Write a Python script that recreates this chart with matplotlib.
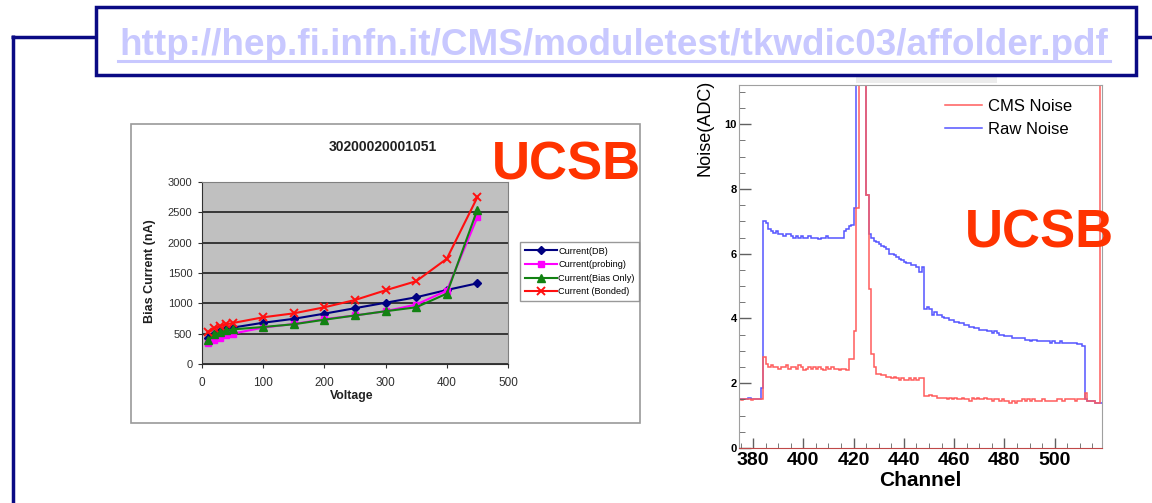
import numpy as np
import matplotlib
matplotlib.use("Agg")
import matplotlib.pyplot as plt
from matplotlib.patches import Rectangle
from matplotlib.lines import Line2D
from matplotlib.ticker import MultipleLocator

plt.rcParams["font.family"] = ["Liberation Sans", "DejaVu Sans"]

W, H = 1152, 503

# left chart: bias current (nA) vs voltage
voltage = [10, 20, 30, 40, 50, 100, 150, 200, 250, 300, 350, 400, 450]
current_db = [430, 500, 540, 570, 600, 680, 745, 830, 920, 1010, 1100, 1220, 1330]
current_probing = [345, 390, 430, 470, 500, 600, 660, 740, 800, 870, 980, 1210, 2420]
current_bias_only = [390, 490, 530, 555, 570, 610, 655, 730, 800, 870, 935, 1160, 2545]
current_bonded = [525, 590, 630, 655, 675, 770, 835, 935, 1055, 1215, 1365, 1735, 2750]
left_labels = ["Current(DB)", "Current(probing)", "Current(Bias Only)", "Current (Bonded)"]

# right chart: noise per channel, channels 374..518
first_channel = 374
raw_noise = [
    1.50, 1.50, 1.52, 1.50, 1.55, 1.50, 1.52, 1.50, 1.50, 1.85,
    7.00, 6.95, 6.75, 6.70, 6.65, 6.70, 6.60, 6.60, 6.55, 6.60,
    6.60, 6.55, 6.50, 6.55, 6.50, 6.55, 6.50, 6.50, 6.55, 6.50,
    6.50, 6.50, 6.45, 6.50, 6.50, 6.55, 6.50, 6.50, 6.50, 6.50,
    6.50, 6.50, 6.70, 6.75, 6.85, 6.90, 7.40, 15.0, 15.0, 15.0,
    15.0, 7.80, 6.60, 6.50, 6.40, 6.35, 6.30, 6.25, 6.20, 6.15,
    6.00, 6.00, 5.95, 5.90, 5.85, 5.80, 5.75, 5.70, 5.70, 5.65,
    5.65, 5.60, 5.45, 5.60, 4.30, 4.35, 4.30, 4.10, 4.20, 4.10,
    4.10, 4.05, 4.00, 4.00, 3.95, 3.95, 3.90, 3.90, 3.85, 3.85,
    3.80, 3.80, 3.75, 3.75, 3.70, 3.70, 3.65, 3.65, 3.65, 3.60,
    3.60, 3.55, 3.60, 3.55, 3.50, 3.50, 3.45, 3.45, 3.45, 3.40,
    3.40, 3.40, 3.40, 3.40, 3.35, 3.35, 3.30, 3.35, 3.35, 3.30,
    3.30, 3.30, 3.30, 3.30, 3.25, 3.30, 3.25, 3.25, 3.30, 3.25,
    3.25, 3.25, 3.25, 3.25, 3.25, 3.20, 3.20, 3.15, 1.50, 1.45,
    1.45, 1.45, 1.40, 1.40, 1.40,
]
cms_noise = [
    1.50, 1.48, 1.50, 1.50, 1.50, 1.48, 1.50, 1.50, 1.50, 1.50,
    2.80, 2.60, 2.50, 2.55, 2.50, 2.50, 2.45, 2.50, 2.50, 2.55,
    2.45, 2.50, 2.50, 2.45, 2.55, 2.50, 2.40, 2.45, 2.50, 2.45,
    2.50, 2.45, 2.50, 2.45, 2.40, 2.50, 2.45, 2.50, 2.45, 2.45,
    2.40, 2.45, 2.45, 2.40, 2.75, 2.75, 3.60, 7.40, 15.0, 15.0,
    15.0, 7.80, 4.90, 2.90, 2.50, 2.30, 2.30, 2.25, 2.25, 2.20,
    2.20, 2.15, 2.20, 2.15, 2.10, 2.15, 2.10, 2.10, 2.15, 2.10,
    2.15, 2.10, 2.15, 2.15, 1.60, 1.60, 1.65, 1.60, 1.60, 1.55,
    1.55, 1.55, 1.55, 1.50, 1.55, 1.50, 1.55, 1.50, 1.50, 1.55,
    1.50, 1.50, 1.45, 1.55, 1.50, 1.55, 1.50, 1.50, 1.55, 1.50,
    1.50, 1.45, 1.50, 1.50, 1.45, 1.50, 1.45, 1.45, 1.40, 1.45,
    1.40, 1.45, 1.45, 1.50, 1.45, 1.50, 1.45, 1.50, 1.45, 1.45,
    1.45, 1.50, 1.45, 1.45, 1.45, 1.45, 1.45, 1.50, 1.50, 1.45,
    1.50, 1.50, 1.50, 1.50, 1.45, 1.50, 1.50, 1.50, 1.70, 1.45,
    1.45, 1.45, 1.40, 1.40, 15.0,
]
right_labels = ["CMS Noise", "Raw Noise"]

url = "http://hep.fi.infn.it/CMS/moduletest/tkwdic03/affolder.pdf"
navy = "#0a0a84"
ucsb_color = "#ff3300"


def box(left, top, right, bottom):
    # pixel box -> figure fraction rect
    return [left / W, 1 - bottom / H, (right - left) / W, (bottom - top) / H]


def px(x, y):
    return (x / W, 1 - y / H)


fig = plt.figure(figsize=(W / 100, H / 100), dpi=100)

# slide background in pixel coordinates
bg = fig.add_axes([0, 0, 1, 1], zorder=-1)
bg.set_xlim(0, W)
bg.set_ylim(H, 0)
bg.axis("off")
bg.plot([11, W], [36.5, 36.5], color=navy, lw=2.5, solid_capstyle="butt", zorder=1)
bg.plot([12.5, 12.5], [35, H], color=navy, lw=2.5, solid_capstyle="butt", zorder=1)
bg.add_patch(Rectangle((96, 6.5), 1040, 68, facecolor="white", edgecolor=navy,
                       lw=2.5, zorder=3))
bg.text(614, 55, url, ha="center", va="baseline", fontsize=26.6,
        fontweight="bold", color="#c8c8ff", zorder=4)
bg.plot([118, 1110], [61, 61], color="#c8c8ff", lw=2.2, zorder=4)
bg.add_patch(Rectangle((131, 124), 509, 299, facecolor="white", edgecolor="#9a9a9a", lw=1.2))
bg.add_patch(Rectangle((856, 77), 141, 6, facecolor="#ececec", edgecolor="none"))

# ---- left chart (Excel style) ----
ax1 = fig.add_axes(box(202, 182, 508, 364))
ax1.set_facecolor("#c0c0c0")
ax1.plot(voltage, current_db, color="#000080", marker="D", ms=4.5, lw=1.5, label=left_labels[0])
ax1.plot(voltage, current_probing, color="#ff00ff", marker="s", ms=4.5, lw=1.5, label=left_labels[1])
ax1.plot(voltage, current_bias_only, color="#128212", marker="^", ms=5.5, lw=1.5, label=left_labels[2])
ax1.plot(voltage, current_bonded, color="#ff1010", marker="x", ms=5.5, mew=1.4, lw=1.5, label=left_labels[3])
ax1.set_xlim(0, 500)
ax1.set_ylim(0, 3000)
ax1.set_xticks(range(0, 501, 100))
ax1.set_yticks(range(0, 3001, 500))
ax1.yaxis.grid(True, color="#202020", lw=1.2)
ax1.set_axisbelow(True)
for side in ["top", "right"]:
    ax1.spines[side].set_color("#808080")
for side in ["left", "bottom"]:
    ax1.spines[side].set_color("#303030")
ax1.tick_params(axis="y", labelsize=8, length=3, pad=4, colors="#303030")
ax1.tick_params(axis="x", labelsize=8.5, length=3, pad=6.5, colors="#303030")
ax1.legend(loc="upper left", bbox_to_anchor=px(520, 242), bbox_transform=fig.transFigure,
           fontsize=6.6, frameon=True, fancybox=False, edgecolor="#808080",
           borderpad=0.5, labelspacing=0.5, handlelength=3.5, handletextpad=0.2,
           borderaxespad=0)
fig.text(*px(383, 147), "30200020001051", ha="center", va="center",
         fontsize=10, fontweight="bold", color="#202020")
fig.text(*px(150, 271), "Bias Current (nA)", ha="center", va="center",
         rotation=90, fontsize=9, fontweight="bold", color="#202020")
fig.text(*px(352, 396), "Voltage", ha="center", va="center",
         fontsize=8.8, fontweight="bold", color="#202020")

# ---- right chart (ROOT style) ----
ax2 = fig.add_axes(box(739, 85, 1102, 448))
edges = np.arange(first_channel, first_channel + len(raw_noise) + 1)
ax2.stairs(raw_noise, edges, baseline=None, color="#5555ff", lw=1.1)
ax2.stairs(cms_noise, edges, baseline=None, color="#ff5c5c", lw=1.1)
ax2.set_xlim(374.4, 518.8)
ax2.set_ylim(0, 11.21)
ax2.set_xticks(range(380, 501, 20))
ax2.xaxis.set_minor_locator(MultipleLocator(5))
ax2.set_yticks(range(0, 11, 2))
ax2.yaxis.set_minor_locator(MultipleLocator(0.5))
ax2.tick_params(axis="x", which="major", direction="in", length=7, width=1,
                labelsize=14, pad=3, colors="#606060", labelcolor="black")
ax2.tick_params(axis="x", which="minor", direction="in", length=3.6, colors="#606060")
ax2.tick_params(axis="y", which="major", direction="in", length=8.4, width=1,
                labelsize=8, pad=1.5, colors="#606060", labelcolor="black")
ax2.tick_params(axis="y", which="minor", direction="in", length=4, colors="#606060")
for lab in ax2.get_xticklabels() + ax2.get_yticklabels():
    lab.set_fontweight("bold")
for side in ["top", "right", "left"]:
    ax2.spines[side].set_color("#a0a0a0")
ax2.spines["bottom"].set_color("#c04848")
handles = [Line2D([], [], color="#ff5c5c", lw=1.1), Line2D([], [], color="#5555ff", lw=1.1)]
ax2.legend(handles, right_labels, loc="upper left", bbox_to_anchor=px(945, 99),
           bbox_transform=fig.transFigure, frameon=False, fontsize=12,
           handlelength=2.2, handletextpad=0.35, labelspacing=0.5,
           borderpad=0, borderaxespad=0)
fig.text(*px(705, 80), "Noise(ADC)", ha="center", va="top", rotation=90, fontsize=13)
fig.text(*px(920, 480), "Channel", ha="center", va="center", fontsize=15, fontweight="bold")

# UCSB labels
fig.text(*px(566, 165), "UCSB", ha="center", va="center", fontsize=38,
         fontweight="bold", color=ucsb_color)
fig.text(*px(1039, 233), "UCSB", ha="center", va="center", fontsize=38,
         fontweight="bold", color=ucsb_color)

fig.savefig("out.png", dpi=100)
